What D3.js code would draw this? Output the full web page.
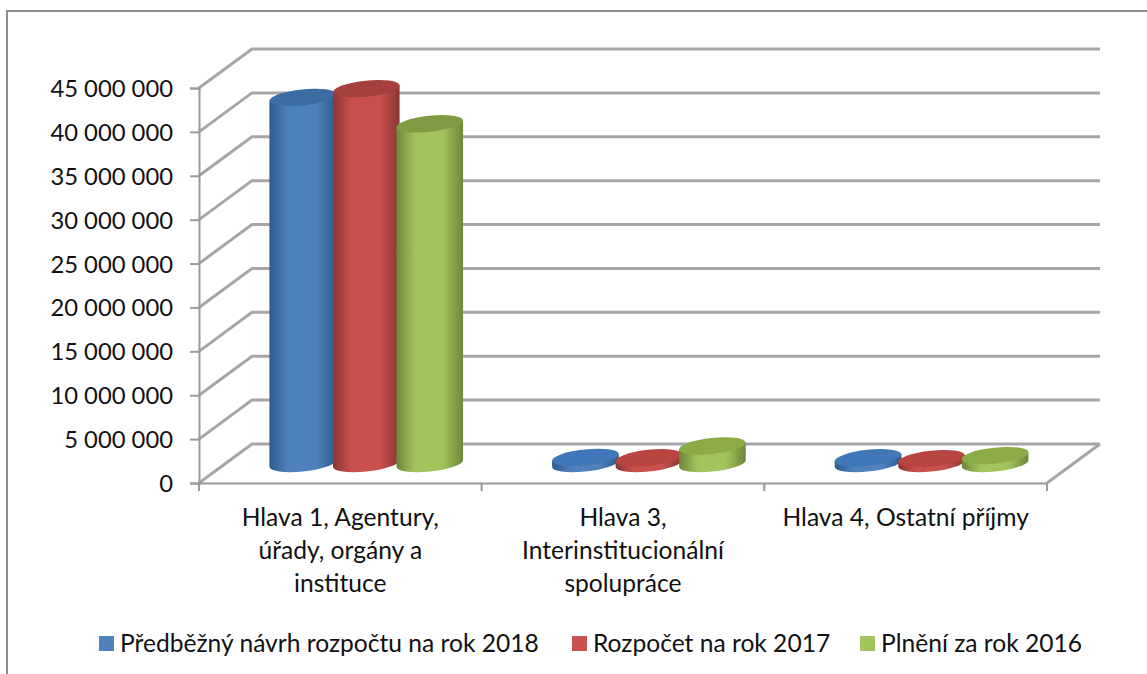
<!DOCTYPE html>
<html lang="cs">
<head>
<meta charset="utf-8">
<script src="https://cdn.jsdelivr.net/npm/d3@7"></script>
<style>
    html, body { margin: 0; padding: 0; background: #fff; overflow: hidden; }
    text { font-family: Lato, "Open Sans", sans-serif; fill: #111; }
    .grid { stroke: #a6a6a6; stroke-width: 3; fill: none; }
    .axis line, .axis path { stroke: #9a9a9a; stroke-width: 2; fill: none; }
</style>
</head>
<body>
<script>
    const categories = ['Hlava 1', 'Hlava 3', 'Hlava 4'];
    const categoryLines = [
        ['Hlava 1, Agentury,', 'úřady, orgány a', 'instituce'],
        ['Hlava 3,', 'Interinstitucionální', 'spolupráce'],
        ['Hlava 4, Ostatní příjmy']
    ];
    const seriesNames = ['Předběžný návrh rozpočtu na rok 2018', 'Rozpočet na rok 2017', 'Plnění za rok 2016'];
    const values2018 = [41700000, 700000, 650000];
    const values2017 = [42700000, 650000, 550000];
    const values2016 = [38700000, 2000000, 900000];
    const yTicks = [0, 5000000, 10000000, 15000000, 20000000, 25000000, 30000000, 35000000, 40000000, 45000000];
    const colors = [
        { mid: '#4f81bd', edge: '#2c5a8f', top: '#3a6ca3', flat: '#3f77b8' },
        { mid: '#c9514e', edge: '#8a3533', top: '#a43f3c', flat: '#b8443f' },
        { mid: '#a2c45c', edge: '#6b8739', top: '#7f9c45', flat: '#8aab45' }
    ];
    const legendX = [99, 572, 860];

    const width = 1147, height = 674;
    const depthX = 53, depthY = 39;
    const series = [values2018, values2017, values2016];

    const x = d3.scaleBand().domain(categories).range([199, 1047]);
    const xInner = d3.scaleBand().domain(d3.range(3)).range([45.5, 236]);
    const y = d3.scaleLinear().domain([0, 45000000]).range([483, 88]);

    const svg = d3.select('body').append('svg')
        .attr('width', width)
        .attr('height', height);

    const defs = svg.append('defs');
    defs.append('filter').attr('id', 'soft')
        .append('feGaussianBlur').attr('stdDeviation', 0.5);

    colors.forEach(function (c, i) {
        const grad = defs.append('linearGradient').attr('id', 'body' + i);
        [[0, c.edge], [0.28, c.mid], [0.7, c.mid], [1, c.edge]].forEach(function (s) {
            grad.append('stop').attr('offset', s[0]).attr('stop-color', s[1]);
        });
    });

    // outer frame, only top and left show in the picture
    svg.append('path')
        .attr('d', `M7,${height} V11 H${width}`)
        .attr('fill', 'none')
        .attr('stroke', '#8c8c8c')
        .attr('stroke-width', 2);

    const chart = svg.append('g').attr('filter', 'url(#soft)');

    // gridlines on the back wall and the side wall
    chart.selectAll('.grid')
        .data(yTicks)
        .enter().append('path')
        .classed('grid', true)
        .attr('d', d => `M${x.range()[0]},${y(d)} L${x.range()[0] + depthX},${y(d) - depthY} H${x.range()[1] + depthX}`);

    // floor edge on the right side
    chart.append('path')
        .classed('grid', true)
        .attr('d', `M${x.range()[1]},${y(0)} L${x.range()[1] + depthX},${y(0) - depthY}`);

    const axisLeft = d3.axisLeft(y).tickValues(yTicks).tickSize(9).tickFormat('');
    chart.append('g')
        .classed('axis', true)
        .attr('transform', `translate(${x.range()[0]},0)`)
        .call(axisLeft);

    const axisBottom = d3.axisBottom(x).tickSize(0).tickFormat('');
    const gBottom = chart.append('g')
        .classed('axis', true)
        .attr('transform', `translate(0,${y(0)})`)
        .call(axisBottom);
    gBottom.selectAll('.tick').remove();
    gBottom.selectAll('.cat-tick')
        .data(d3.range(categories.length + 1))
        .enter().append('line')
        .attr('x1', d => x.range()[0] + d * x.step())
        .attr('x2', d => x.range()[0] + d * x.step())
        .attr('y1', 0)
        .attr('y2', 8);

    // cylinders
    const rx = 33.5, ry = 8, tilt = -6;
    const phi = tilt * Math.PI / 180;
    const t0 = Math.atan(-(ry / rx) * Math.tan(phi));
    const dx = rx * Math.cos(t0) * Math.cos(phi) - ry * Math.sin(t0) * Math.sin(phi);
    const dy = rx * Math.cos(t0) * Math.sin(phi) + ry * Math.sin(t0) * Math.cos(phi);

    function cylinderPath(cx, yTop, yBottom) {
        return `M${cx - dx},${yTop - dy} L${cx - dx},${yBottom - dy}` +
            ` A${rx},${ry} ${tilt} 0 0 ${cx + dx},${yBottom + dy}` +
            ` L${cx + dx},${yTop + dy} Z`;
    }

    categories.forEach(function (cat, c) {
        series.forEach(function (vals, s) {
            const cx = x(cat) + xInner(s) + xInner.step() / 2 + depthX / 2;
            const yTop = y(vals[c]) - depthY / 2;
            const yBottom = y(0) - depthY / 2;
            chart.append('path')
                .attr('d', cylinderPath(cx, yTop, yBottom))
                .attr('fill', `url(#body${s})`);
            // the low discs have a brighter lid than the tall bars
            chart.append('ellipse')
                .attr('rx', rx)
                .attr('ry', ry)
                .attr('transform', `translate(${cx},${yTop}) rotate(${tilt})`)
                .attr('fill', vals[c] < 5000000 ? colors[s].flat : colors[s].top);
        });
    });

    // y labels
    const numFormat = d3.formatLocale({ decimal: ',', thousands: ' ', grouping: [3], currency: ['', ''] }).format(',d');
    svg.selectAll('.y-label')
        .data(yTicks)
        .enter().append('text')
        .attr('x', 173)
        .attr('y', d => y(d) + 9)
        .attr('text-anchor', 'end')
        .style('font-size', '23.8px')
        .text(d => numFormat(d));

    // category labels
    categories.forEach(function (cat, c) {
        const label = svg.append('text')
            .attr('text-anchor', 'middle')
            .style('font-size', '24.6px');
        categoryLines[c].forEach(function (line, i) {
            label.append('tspan')
                .attr('x', x(cat) + x.step() / 2)
                .attr('y', 526 + i * 33)
                .text(line);
        });
    });

    // legend
    seriesNames.forEach(function (name, i) {
        svg.append('rect')
            .attr('x', legendX[i])
            .attr('y', 636)
            .attr('width', 15)
            .attr('height', 15)
            .attr('fill', colors[i].mid);
        svg.append('text')
            .attr('x', legendX[i] + 21)
            .attr('y', 652)
            .style('font-size', '24.6px')
            .text(name);
    });
</script>
</body>
</html>
